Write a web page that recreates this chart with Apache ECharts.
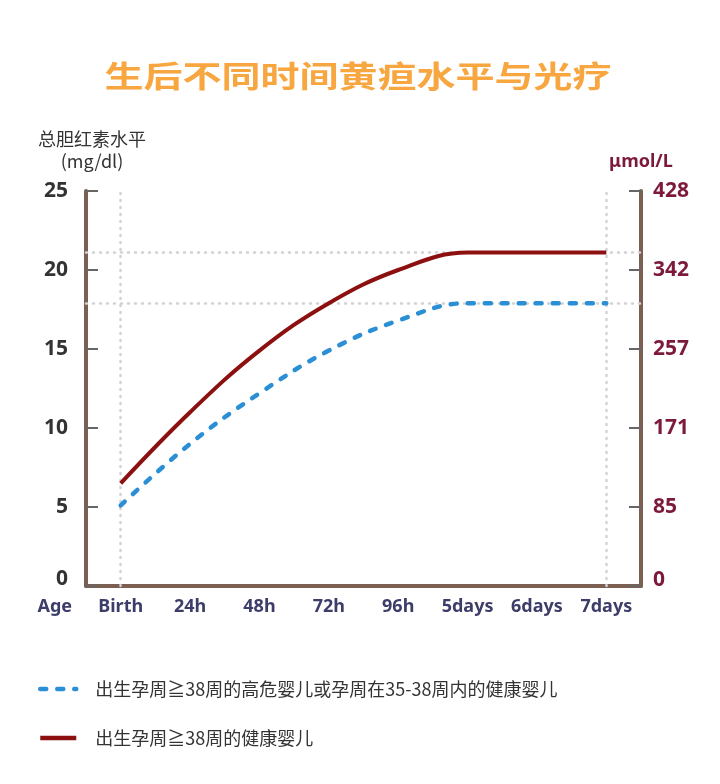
<!DOCTYPE html>
<html>
<head>
<meta charset="utf-8">
<script src="https://cdn.jsdelivr.net/npm/echarts@6/dist/echarts.min.js"></script>
<style>
html,body{margin:0;padding:0;background:#ffffff;}
#chart{width:720px;height:784px;}
</style>
</head>
<body>
<div id="chart"></div>
<script>
// ---- data ----
const titleText = '生后不同时间黄疸水平与光疗';
const categories = ['Birth', '24h', '48h', '72h', '96h', '5days', '6days', '7days'];
const healthyName = '出生孕周≧38周的健康婴儿';
const riskName = '出生孕周≧38周的高危婴儿或孕周在35-38周内的健康婴儿';
const healthyValues = [6.5, 11.0, 14.9, 17.9, 20.0, 21.1, 21.1, 21.1];
const riskValues = [5.1, 9.0, 12.2, 14.9, 16.8, 17.9, 17.9, 17.9];
const leftTicks = [0, 5, 10, 15, 20, 25];
const rightTickLabels = ['0', '85', '171', '257', '342', '428'];

const axisBrown = '#7b5f53';
const maroon = '#7d1a3c';
const navy = '#3d3d6a';
const healthyColor = '#8d1010';
const riskColor = '#2b8fd6';
const dotGrey = '#d2d2d2';

const chart = echarts.init(document.getElementById('chart'));
const fontFam = '"Noto Sans", "Noto Sans CJK SC", sans-serif';

const option = {
  backgroundColor: '#ffffff',
  animation: false,
  graphic: [{
    type: 'text',
    x: 358, y: 76,
    scaleX: 1.3,
    style: {
      text: titleText,
      x: 0, y: 0,
      textAlign: 'center', textVerticalAlign: 'middle',
      font: 'bold 30px "Noto Sans CJK SC", sans-serif',
      fill: '#f7a640',
      stroke: '#ffffff', lineWidth: 3,
      shadowBlur: 4, shadowColor: 'rgba(0,0,0,0.28)', shadowOffsetX: 1, shadowOffsetY: 2
    }
  }],
  grid: { left: 86, right: 79, top: 191, bottom: 198 },
  legend: {
    orient: 'vertical', left: 38, top: 680, itemGap: 31, padding: 0,
    itemWidth: 36, itemHeight: 14,
    itemStyle: { opacity: 0 },
    lineStyle: { width: 4.5 },
    data: [riskName, healthyName],
    textStyle: { fontSize: 18, color: '#333', fontFamily: '"Noto Sans CJK SC", sans-serif', padding: [0, 0, 0, 14] }
  },
  xAxis: {
    type: 'category', data: categories, boundaryGap: true,
    name: 'Age', nameLocation: 'start', nameGap: 14,
    nameTextStyle: { color: navy, fontSize: 18, fontWeight: 'bold', fontFamily: fontFam, verticalAlign: 'top', padding: [12, 0, 0, 0] },
    axisLine: { lineStyle: { color: axisBrown, width: 4 } },
    axisTick: { inside: true, alignWithLabel: true, length: 10, lineStyle: { color: '#555', width: 2 } },
    axisLabel: { color: navy, fontSize: 18, fontWeight: 'bold', fontFamily: fontFam, margin: 12 },
    splitLine: { show: false }
  },
  yAxis: [{
    type: 'value', min: leftTicks[0], max: leftTicks[leftTicks.length - 1], interval: 5,
    name: '总胆红素水平\n(mg/dl)', nameLocation: 'end', nameGap: 19,
    nameTextStyle: { color: '#333', fontSize: 18, fontFamily: '"Noto Sans CJK SC", sans-serif', align: 'center', lineHeight: 22, padding: [0, 0, 0, 12] },
    axisLine: { show: true, lineStyle: { color: axisBrown, width: 4 } },
    axisTick: { show: true, inside: true, length: 12, lineStyle: { color: '#666', width: 2 } },
    axisLabel: {
      color: '#333', fontSize: 21, fontWeight: 'bold', fontFamily: fontFam, margin: 18,
      formatter: v => v === 0 ? '{z|0}' : String(v),
      rich: { z: { fontSize: 21, fontWeight: 'bold', color: '#333', padding: [0, 0, 14, 0] } }
    },
    splitLine: { show: false }
  }, {
    type: 'value', min: 0, max: 428, interval: 85.6, position: 'right',
    name: 'μmol/L', nameLocation: 'end', nameGap: 20,
    nameTextStyle: { color: maroon, fontSize: 18, fontWeight: 'bold', fontFamily: fontFam, align: 'center' },
    axisLine: { show: true, lineStyle: { color: axisBrown, width: 4 } },
    axisTick: { show: true, inside: true, length: 12, lineStyle: { color: '#666', width: 2 } },
    axisLabel: {
      color: maroon, fontSize: 21, fontWeight: 'bold', fontFamily: fontFam, margin: 12,
      formatter: (v, i) => i === 0 ? '{z|' + rightTickLabels[0] + '}' : rightTickLabels[i],
      rich: { z: { fontSize: 21, fontWeight: 'bold', color: maroon, padding: [0, 0, 12, 0] } }
    },
    splitLine: { show: false }
  }],
  series: [{
    name: riskName, type: 'line', data: riskValues, yAxisIndex: 0,
    smooth: 0.4, showSymbol: false, symbol: 'none',
    color: riskColor,
    lineStyle: { color: riskColor, width: 4.5, type: [6, 11], cap: 'round' },
    z: 3
  }, {
    name: healthyName, type: 'line', data: healthyValues, yAxisIndex: 0,
    smooth: 0.4, showSymbol: false, symbol: 'none',
    color: healthyColor,
    lineStyle: { color: healthyColor, width: 4 },
    z: 4,
    markLine: {
      silent: true, symbol: 'none', label: { show: false },
      lineStyle: { color: dotGrey, width: 2.5, type: [1, 6], cap: 'round' },
      z: 1,
      data: [
        { yAxis: healthyValues[healthyValues.length - 1] },
        { yAxis: riskValues[riskValues.length - 1] },
        { xAxis: categories[0] },
        { xAxis: categories[categories.length - 1] }
      ]
    }
  }]
};
chart.setOption(option);
</script>
</body>
</html>
